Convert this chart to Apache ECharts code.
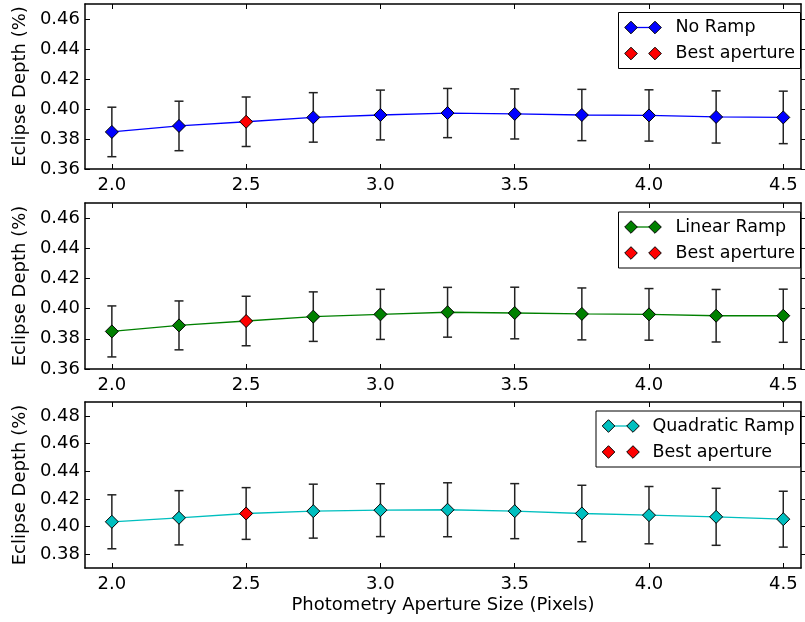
<!DOCTYPE html>
<html><head><meta charset="utf-8">
<script src="https://cdn.jsdelivr.net/npm/echarts@6/dist/echarts.min.js"></script>
<style>html,body{margin:0;padding:0;background:#fff}#c{width:805px;height:622px}</style>
</head><body><div id="c"></div>
<script>
// ---- data ----
const apertures = [2.0, 2.25, 2.5, 2.75, 3.0, 3.25, 3.5, 3.75, 4.0, 4.25, 4.5];
const noRamp     = [0.3847, 0.3887, 0.3915, 0.3944, 0.3960, 0.3973, 0.3967, 0.3960, 0.3957, 0.3947, 0.3944];
const noRampErr  = [0.0165, 0.0165, 0.0165, 0.0165, 0.0166, 0.0164, 0.0167, 0.0171, 0.0171, 0.0174, 0.0175];
const linRamp    = [0.3849, 0.3889, 0.3918, 0.3947, 0.3962, 0.3976, 0.3971, 0.3965, 0.3962, 0.3953, 0.3953];
const linRampErr = [0.0169, 0.0162, 0.0164, 0.0164, 0.0166, 0.0165, 0.0171, 0.0172, 0.0171, 0.0174, 0.0176];
const quadRamp   = [0.4034, 0.4063, 0.4094, 0.4111, 0.4118, 0.4121, 0.4111, 0.4094, 0.4082, 0.4070, 0.4053];
const quadRampErr= [0.0195, 0.0196, 0.0187, 0.0195, 0.0191, 0.0195, 0.0199, 0.0204, 0.0207, 0.0206, 0.0202];
const bestAperture = 2.5;
const xTicks = [2.0, 2.5, 3.0, 3.5, 4.0, 4.5];
const yTicksA = [0.36, 0.38, 0.40, 0.42, 0.44, 0.46];
const yTicksB = [0.38, 0.40, 0.42, 0.44, 0.46, 0.48];
const seriesNames = ['No Ramp', 'Linear Ramp', 'Quadratic Ramp'];
const bestLabel = 'Best aperture';
const xTitle = 'Photometry Aperture Size (Pixels)';
const yTitle = 'Eclipse Depth (%)';

// ---- styling / layout ----
const FONT = 'DejaVu Sans';
const panels = [
  {vals: noRamp, errs: noRampErr, color: '#0000ff', top: 4, height: 165, ymin: 0.36, ymax: 0.47, yt: yTicksA,
   leg: {x: 618.5, y: 12.5, w: 182, h: 56, m1: 631, m2: 655, tx: 675.5}},
  {vals: linRamp, errs: linRampErr, color: '#008000', top: 203, height: 166, ymin: 0.36, ymax: 0.47, yt: yTicksA,
   leg: {x: 618.5, y: 212, w: 182, h: 56, m1: 631, m2: 655, tx: 675.5}},
  {vals: quadRamp, errs: quadRampErr, color: '#00bfbf', top: 402, height: 166, ymin: 0.37, ymax: 0.49, yt: yTicksB,
   leg: {x: 596, y: 411, w: 204.5, h: 56, m1: 608.5, m2: 633, tx: 652.5}}
];
const GL = 85, GW = 716, XMIN = 1.9, XMAX = 4.566;

const grid = [], xAxis = [], yAxis = [], series = [], graphic = [];
const lineStyleAx = {color: '#000', width: 1.5};

function diamond(cx, cy, r, fill) {
  return {type: 'polygon', shape: {points: [[cx, cy - r], [cx + r, cy], [cx, cy + r], [cx - r, cy]]},
    style: {fill: fill, stroke: '#000', lineWidth: 1}, z: 20};
}

panels.forEach((p, i) => {
  grid.push({left: GL, top: p.top, width: GW, height: p.height, show: false});
  const isLast = i === panels.length - 1;
  xAxis.push({type: 'value', gridIndex: i, min: XMIN, max: XMAX, position: 'bottom',
    axisLine: {show: true, onZero: false, lineStyle: lineStyleAx},
    axisTick: {show: true, inside: true, length: 5, customValues: xTicks, lineStyle: {color: '#000', width: 1}},
    axisLabel: {show: true, customValues: xTicks, formatter: v => v.toFixed(1), fontSize: 18, color: '#000', fontFamily: FONT, margin: 7},
    splitLine: {show: false},
    name: isLast ? xTitle : '', nameLocation: 'middle', nameGap: 28,
    nameTextStyle: {fontSize: 18, color: '#000', fontFamily: FONT, verticalAlign: 'top'}});
  xAxis.push({type: 'value', gridIndex: i, min: XMIN, max: XMAX, position: 'top',
    axisLine: {show: true, onZero: false, lineStyle: lineStyleAx},
    axisTick: {show: true, inside: true, length: 5, customValues: xTicks, lineStyle: {color: '#000', width: 1}},
    axisLabel: {show: false}, splitLine: {show: false}});
  yAxis.push({type: 'value', gridIndex: i, min: p.ymin, max: p.ymax, position: 'left',
    axisLine: {show: true, onZero: false, lineStyle: lineStyleAx},
    axisTick: {show: true, inside: true, length: 5, customValues: p.yt, lineStyle: {color: '#000', width: 1}},
    axisLabel: {show: true, customValues: p.yt, formatter: v => v.toFixed(2), fontSize: 18, color: '#000', fontFamily: FONT, margin: 5},
    splitLine: {show: false},
    name: yTitle, nameLocation: 'middle', nameGap: 56, nameRotate: 90,
    nameTextStyle: {fontSize: 18, color: '#000', fontFamily: FONT}});
  yAxis.push({type: 'value', gridIndex: i, min: p.ymin, max: p.ymax, position: 'right',
    axisLine: {show: true, onZero: false, lineStyle: lineStyleAx},
    axisTick: {show: true, inside: false, length: 4, customValues: p.yt, lineStyle: {color: '#000', width: 1}},
    axisLabel: {show: false}, splitLine: {show: false}});

  const xi = i * 2, yi = i * 2;
  series.push({type: 'custom', xAxisIndex: xi, yAxisIndex: yi, z: 2,
    data: apertures.map((x, k) => [x, p.vals[k] - p.errs[k], p.vals[k] + p.errs[k]]),
    renderItem: (params, api) => {
      const x = api.value(0);
      const a = api.coord([x, api.value(2)]), b = api.coord([x, api.value(1)]);
      const w = 4.5;
      const st = {stroke: '#222', lineWidth: 1.5};
      return {type: 'group', children: [
        {type: 'line', shape: {x1: a[0], y1: a[1], x2: b[0], y2: b[1]}, style: st},
        {type: 'line', shape: {x1: a[0] - w, y1: a[1], x2: a[0] + w, y2: a[1]}, style: st},
        {type: 'line', shape: {x1: b[0] - w, y1: b[1], x2: b[0] + w, y2: b[1]}, style: st}
      ]};
    }, silent: true});
  series.push({type: 'line', xAxisIndex: xi, yAxisIndex: yi, z: 3, name: seriesNames[i],
    data: apertures.map((x, k) => x === bestAperture ? {value: [x, p.vals[k]], symbol: 'none'} : [x, p.vals[k]]),
    symbol: 'diamond', symbolSize: 13, showAllSymbol: true,
    lineStyle: {color: p.color, width: 1.3},
    itemStyle: {color: p.color, borderColor: '#000', borderWidth: 1}, animation: false, silent: true});
  const bk = apertures.indexOf(bestAperture);
  series.push({type: 'scatter', xAxisIndex: xi, yAxisIndex: yi, z: 4, name: bestLabel,
    data: [[apertures[bk], p.vals[bk]]],
    symbol: 'diamond', symbolSize: 13,
    itemStyle: {color: '#ff0000', borderColor: '#000', borderWidth: 1, opacity: 1}, animation: false, silent: true});

  const L = p.leg;
  const r1 = L.y + 15, r2 = L.y + 41;
  graphic.push({type: 'rect', shape: {x: L.x, y: L.y, width: L.w, height: L.h},
    style: {fill: '#fff', stroke: '#000', lineWidth: 1}, z: 15});
  graphic.push({type: 'line', shape: {x1: L.m1, y1: r1, x2: L.m2, y2: r1}, style: {stroke: p.color, lineWidth: 1.3}, z: 18});
  graphic.push(diamond(L.m1, r1, 6.3, p.color));
  graphic.push(diamond(L.m2, r1, 6.3, p.color));
  graphic.push(diamond(L.m1, r2, 6.3, '#ff0000'));
  graphic.push(diamond(L.m2, r2, 6.3, '#ff0000'));
  graphic.push({type: 'text', x: L.tx, y: r1, style: {text: seriesNames[i], fontSize: 17.5, fontFamily: FONT, fill: '#000', verticalAlign: 'middle'}, z: 20});
  graphic.push({type: 'text', x: L.tx, y: r2, style: {text: bestLabel, fontSize: 17.5, fontFamily: FONT, fill: '#000', verticalAlign: 'middle'}, z: 20});
});

const chart = echarts.init(document.getElementById('c'), null, {renderer: 'canvas'});
chart.setOption({animation: false, backgroundColor: '#fff', grid, xAxis, yAxis, series, graphic});
</script>
</body></html>
